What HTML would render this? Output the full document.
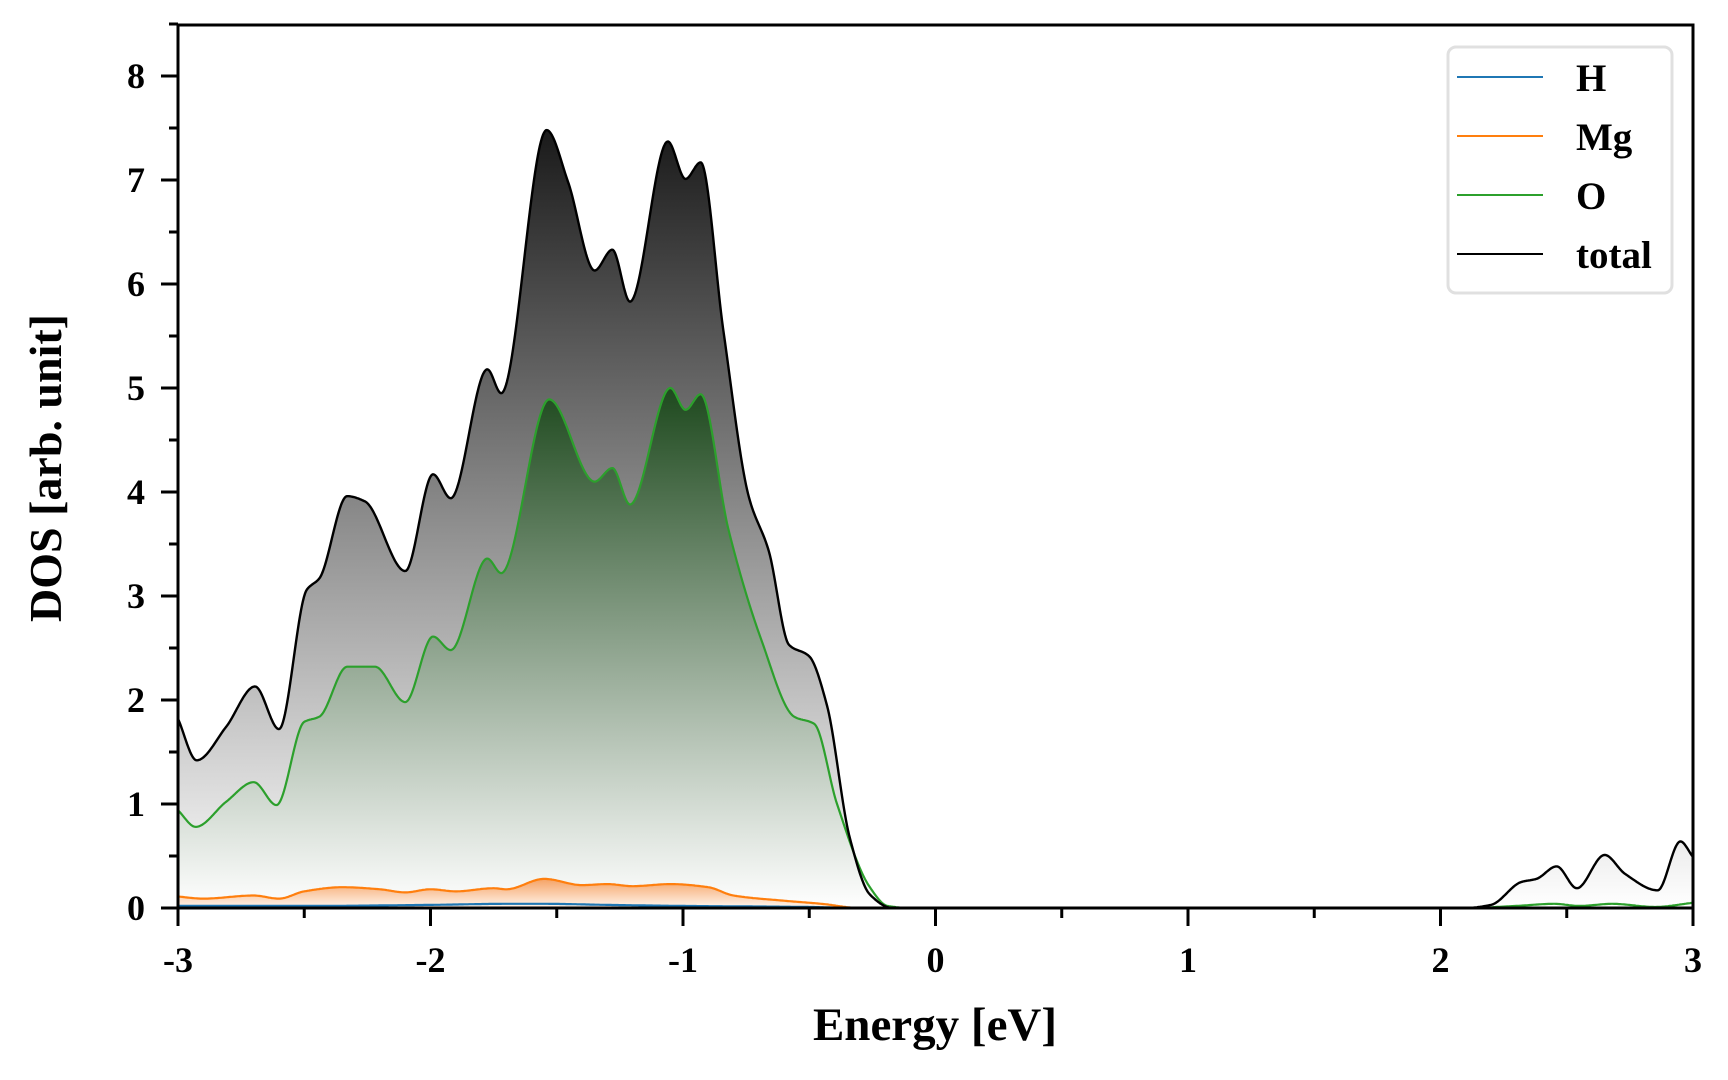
<!DOCTYPE html>
<html><head><meta charset="utf-8"><style>
html,body{margin:0;padding:0;background:#fff;}
svg{display:block;}
text{font-family:"Liberation Serif",serif;font-weight:bold;fill:#000;}
</style></head><body>
<svg id="s" width="1728" height="1080" viewBox="0 0 1728 1080" xmlns="http://www.w3.org/2000/svg">
<defs>
<linearGradient id="gT" gradientUnits="userSpaceOnUse" x1="0" y1="130" x2="0" y2="908">
<stop offset="0" stop-color="#1a1a1a"/><stop offset="1" stop-color="#ffffff"/></linearGradient>
<linearGradient id="gO" gradientUnits="userSpaceOnUse" x1="0" y1="390" x2="0" y2="908">
<stop offset="0" stop-color="#1f4a1f"/><stop offset="1" stop-color="#ffffff"/></linearGradient>
<linearGradient id="gM" gradientUnits="userSpaceOnUse" x1="0" y1="878" x2="0" y2="908">
<stop offset="0" stop-color="#f5a060"/><stop offset="1" stop-color="#fff6ee"/></linearGradient>
<clipPath id="cp"><rect x="178" y="25" width="1515" height="883"/></clipPath>
</defs>
<g id="plot" clip-path="url(#cp)"></g>
<rect x="178" y="25" width="1515" height="883" fill="none" stroke="#000" stroke-width="3"/>
<g id="ticks" stroke="#000" stroke-width="3"></g>
<g id="labels" font-size="36"></g>
<rect x="1448" y="47" width="224" height="246" rx="8" fill="#fff" stroke="#e0e0e0" stroke-width="3"/>
<line x1="1457" y1="77" x2="1543" y2="77" stroke="#1f77b4" stroke-width="2"/>
<line x1="1457" y1="136" x2="1543" y2="136" stroke="#ff7f0e" stroke-width="2"/>
<line x1="1457" y1="195" x2="1543" y2="195" stroke="#2ca02c" stroke-width="2"/>
<line x1="1457" y1="254" x2="1543" y2="254" stroke="#000" stroke-width="2"/>
<text x="1576" y="91" font-size="39">H</text>
<text x="1576" y="150" font-size="39">Mg</text>
<text x="1576" y="209" font-size="39">O</text>
<text x="1576" y="268" font-size="39">total</text>
<text x="935" y="1040" font-size="47" text-anchor="middle">Energy [eV]</text>
<text transform="translate(61,468) rotate(-90)" font-size="46" text-anchor="middle">DOS [arb. unit]</text>
</svg>
<script>
var X=function(e){return 178+(e+3)*252.5;},Y=function(v){return 908-v*104;};
var T=[[-3,1.82],[-2.926,1.42],[-2.81,1.74],[-2.695,2.13],[-2.60,1.72],[-2.49,3.06],[-2.44,3.17],[-2.33,3.96],[-2.26,3.91],[-2.10,3.24],[-1.99,4.17],[-1.92,3.94],[-1.775,5.18],[-1.72,4.95],[-1.54,7.48],[-1.455,6.98],[-1.35,6.13],[-1.28,6.33],[-1.21,5.83],[-1.06,7.37],[-0.99,7.01],[-0.93,7.17],[-0.84,5.55],[-0.74,3.96],[-0.66,3.43],[-0.58,2.53],[-0.50,2.42],[-0.43,1.95],[-0.34,0.68],[-0.26,0.13],[-0.17,0],[1,0],[2.1,0],[2.2,0.03],[2.32,0.25],[2.38,0.28],[2.46,0.40],[2.54,0.19],[2.65,0.51],[2.73,0.33],[2.86,0.17],[2.95,0.64],[3.0,0.49]];
var O=[[-3,0.94],[-2.93,0.78],[-2.81,1.02],[-2.70,1.21],[-2.61,0.99],[-2.50,1.79],[-2.44,1.84],[-2.33,2.32],[-2.22,2.32],[-2.10,1.98],[-1.99,2.61],[-1.92,2.48],[-1.775,3.36],[-1.72,3.22],[-1.53,4.89],[-1.35,4.10],[-1.28,4.23],[-1.21,3.88],[-1.05,5.0],[-0.99,4.79],[-0.93,4.94],[-0.82,3.64],[-0.69,2.58],[-0.56,1.84],[-0.48,1.77],[-0.39,1.0],[-0.26,0.2],[-0.19,0.02],[-0.1,0],[2.1,0],[2.3,0.02],[2.45,0.04],[2.55,0.02],[2.68,0.04],[2.85,0.01],[3,0.05]];
var M=[[-3,.11],[-2.9,.09],[-2.7,.12],[-2.6,.09],[-2.5,.16],[-2.35,.2],[-2.2,.18],[-2.1,.15],[-2.0,.18],[-1.9,.16],[-1.75,.19],[-1.7,.18],[-1.55,.28],[-1.4,.22],[-1.3,.23],[-1.2,.21],[-1.05,.23],[-0.9,.2],[-0.8,.12],[-0.6,.07],[-0.45,.04],[-0.3,0],[3,0]];
var H=[[-3,.02],[-2.5,.02],[-2.0,.03],[-1.7,.04],[-1.55,.04],[-1.3,.03],[-1.0,.02],[-0.5,.01],[-0.3,0],[3,0]];
function interp(p){var n=p.length,xs=p.map(function(a){return a[0];}),ys=p.map(function(a){return a[1];}),d=[],m=[];
for(var i=0;i<n-1;i++)d.push((ys[i+1]-ys[i])/(xs[i+1]-xs[i]));
m[0]=d[0];m[n-1]=d[n-2];
for(i=1;i<n-1;i++){if(d[i-1]*d[i]<=0)m[i]=0;else{var h0=xs[i]-xs[i-1],h1=xs[i+1]-xs[i],w1=2*h1+h0,w2=h1+2*h0;m[i]=(w1+w2)/(w1/d[i-1]+w2/d[i]);}}
var pts=[],k=0;
for(var px=178;px<=1694;px+=1){var e=(px-178)/252.5-3;if(e>3)e=3;
while(k<n-2&&e>xs[k+1])k++;
var h=xs[k+1]-xs[k],t=(e-xs[k])/h,t2=t*t,t3=t2*t;
var y=(2*t3-3*t2+1)*ys[k]+(t3-2*t2+t)*h*m[k]+(-2*t3+3*t2)*ys[k+1]+(t3-t2)*h*m[k+1];
if(y<0)y=0;pts.push(px.toFixed(0)+","+Y(y).toFixed(1));}
return pts;}
function path(p){return "M"+interp(p).join(" L");}
var ns="http://www.w3.org/2000/svg",g=document.getElementById("plot");
function add(tag,at,par){var e=document.createElementNS(ns,tag);for(var k in at)e.setAttribute(k,at[k]);(par||g).appendChild(e);return e;}
var base=" L1694,908 L178,908 Z";
add("path",{d:path(T)+base,fill:"url(#gT)"});
add("path",{d:path(O)+base,fill:"url(#gO)"});
add("path",{d:path(M)+base,fill:"url(#gM)"});
add("path",{d:path(H),fill:"none",stroke:"#1f77b4","stroke-width":2.2});
add("path",{d:path(M),fill:"none",stroke:"#ff7f0e","stroke-width":2.2});
add("path",{d:path(O),fill:"none",stroke:"#2ca02c","stroke-width":2.2});
add("path",{d:path(T),fill:"none",stroke:"#000","stroke-width":2.4,"stroke-linejoin":"round"});
var tk=document.getElementById("ticks"),lb=document.getElementById("labels");
for(var e=-3;e<=3.001;e+=0.5){var x=X(e),maj=Math.abs(e-Math.round(e))<1e-6;
add("line",{x1:x,y1:908,x2:x,y2:maj?926:918},tk);
if(maj){var t=add("text",{x:x,y:972,"text-anchor":"middle"},lb);t.textContent=Math.round(e);}}
for(var v=0;v<=8.5;v+=0.5){var y=Y(v),maj=Math.abs(v-Math.round(v))<1e-6;
add("line",{x1:178,y1:y,x2:maj?161:169,y2:y},tk);
if(maj){var t=add("text",{x:145,y:y+12,"text-anchor":"end"},lb);t.textContent=Math.round(v);}}
</script>
</body></html>
